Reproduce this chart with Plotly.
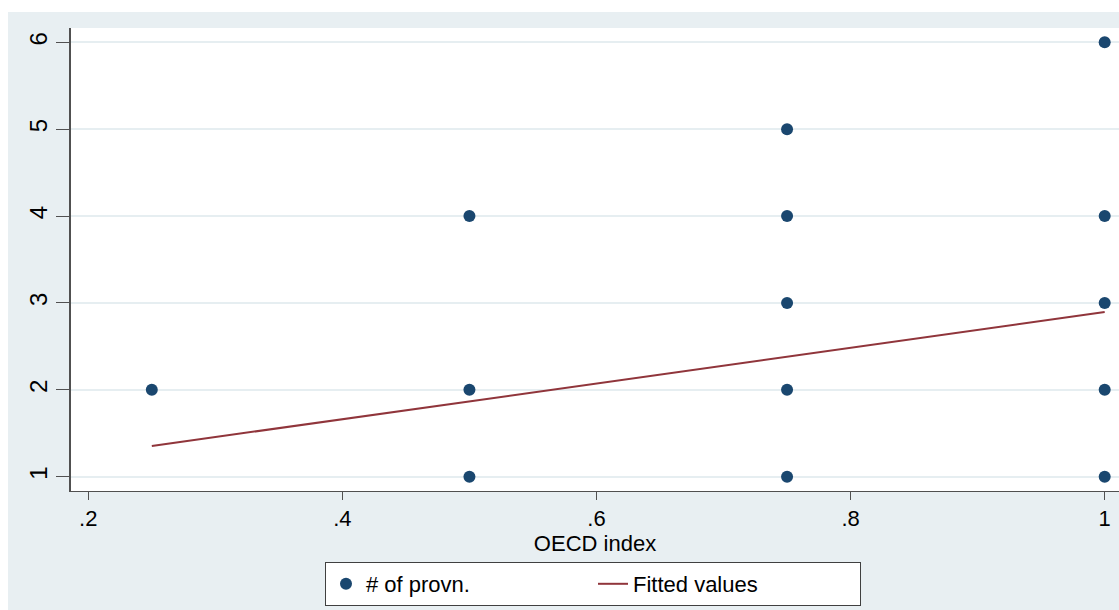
import plotly.graph_objects as go

# Data
oecd_index = [0.25, 0.5, 0.5, 0.5, 0.75, 0.75, 0.75, 0.75, 0.75, 1.0, 1.0, 1.0, 1.0, 1.0]
num_provn = [2, 4, 2, 1, 5, 4, 3, 2, 1, 6, 4, 3, 2, 1]
fit_x = [0.25, 1.0]
fit_y = [1.353, 2.895]

x_tickvals = [0.2, 0.4, 0.6, 0.8, 1.0]
x_ticktext = [".2", ".4", ".6", ".8", "1"]
y_tickvals = [1, 2, 3, 4, 5, 6]
y_ticktext = ["1", "2", "3", "4", "5", "6"]

NAVY = "#1a476f"
MAROON = "#90353b"
BG = "#e8eff2"
GRID = "#e6eef1"
AXIS = "#505050"
FONT = "Liberation Sans, Arial, sans-serif"

fig = go.Figure()
fig.add_trace(go.Scatter(
    x=oecd_index, y=num_provn, mode="markers", name="# of provn.",
    marker=dict(color=NAVY, size=12, line=dict(width=0)),
))
fig.add_trace(go.Scatter(
    x=fit_x, y=fit_y, mode="lines", name="Fitted values",
    line=dict(color=MAROON, width=2),
))

L, R, T, B = 71, 0, 28, 119
W, H = 1119, 610
pw = W - L - R
ph = H - T - B

fig.update_layout(
    width=W, height=H,
    margin=dict(l=L, r=R, t=T, b=B, pad=0),
    paper_bgcolor=BG,
    plot_bgcolor="white",
    font=dict(family=FONT, size=21, color="black"),
    showlegend=True,
    legend=dict(
        orientation="h",
        x=(325 - L) / pw, xanchor="left",
        y=-(562 - (H - B)) / ph, yanchor="top",
        bgcolor="white", bordercolor="#404040", borderwidth=1,
        font=dict(family=FONT, size=22, color="black"),
        entrywidth=222,
    ),
    xaxis=dict(
        range=[0.1864, 1.01126],
        tickvals=x_tickvals, ticktext=x_ticktext,
        ticks="outside", ticklen=8, tickcolor=AXIS, tickwidth=1,
        showline=True, linecolor=AXIS, linewidth=1, mirror=False,
        showgrid=False, zeroline=False,
        tickfont=dict(family=FONT, size=22, color="black"),
        title=dict(text="OECD index", font=dict(family=FONT, size=22, color="black"), standoff=0),
    ),
    yaxis=dict(
        range=[0.835, 6.165],
        tickvals=y_tickvals, ticktext=y_ticktext,
        ticks="outside", ticklen=13, tickcolor=AXIS, tickwidth=1,
        tickangle=-90,
        showline=True, linecolor=AXIS, linewidth=1.5, mirror=False,
        showgrid=True, gridcolor=GRID, gridwidth=1.5,
        zeroline=False,
        tickfont=dict(family=FONT, size=24, color="black"),
    ),
    shapes=[
        # white margins on the top and the left, outside the graph region
        dict(type="rect", xref="paper", yref="paper",
             x0=-L / pw - 0.01, x1=1.05, y0=(H - B - 12) / ph, y1=(H - B + 5) / ph,
             fillcolor="white", line=dict(width=0), layer="below"),
        dict(type="rect", xref="paper", yref="paper",
             x0=-L / pw - 0.01, x1=(8 - L) / pw, y0=-B / ph - 0.05, y1=(H - B + 5) / ph,
             fillcolor="white", line=dict(width=0), layer="below"),
    ],
)

fig.write_html(
    "out.html",
    config={"displayModeBar": False},
    post_script="document.body.style.margin='0';document.body.style.overflow='hidden';",
)
